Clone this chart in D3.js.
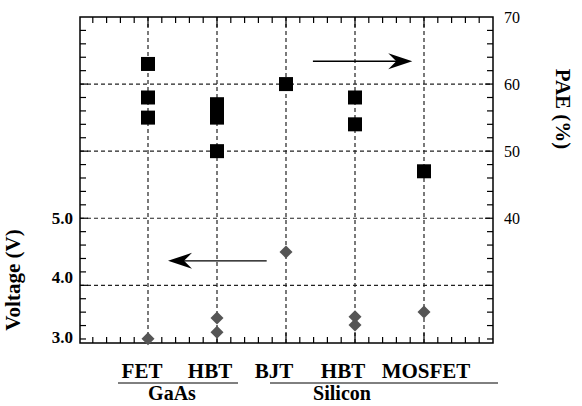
<!DOCTYPE html>
<html>
<head>
<meta charset="utf-8">
<script src="https://cdn.jsdelivr.net/npm/d3@7/dist/d3.min.js"></script>
<style>
  body { margin: 0; background: #fff; }
</style>
</head>
<body>
<script>
// categories (x positions 1..5)
const devices = ["FET", "HBT", "BJT", "HBT", "MOSFET"];
const groups = ["GaAs", "Silicon"];

// PAE (%) points, right axis
const paeCat = [1, 1, 1, 2, 2, 2, 2, 3, 4, 4, 5];
const paeVal = [63, 58, 55, 57, 56, 55, 50, 60, 58, 54, 47];

// voltage (V) points, left axis
const voltCat = [1, 2, 2, 3, 4, 4, 5];
const voltVal = [2.97, 3.32, 3.08, 4.43, 3.34, 3.2, 3.42];

const paeTicks = [70, 60, 50, 40];
const voltTicks = [5.0, 4.0, 3.0];
const paeGrid = [60, 50, 40, 30];

const width = 582, height = 406;
const margin = { top: 17, right: 89, bottom: 63, left: 80 };
const serif = "'Liberation Serif', 'Times New Roman', Times, 'DejaVu Serif', serif";

var svg = d3.select("body")
    .append("svg")
    .attr("width", width)
    .attr("height", height)
    .attr("font-family", serif)
    .style("font-family", serif);

const x = d3.scaleLinear().domain([0, 6]).range([margin.left - 1, width - margin.right]);
const yPae = d3.scaleLinear().domain([21.4, 70]).range([height - margin.bottom, margin.top]);
const yVolt = d3.scaleLinear().domain([3.0, 5.0]).range([337, 218]);

const x0 = margin.left, x1 = width - margin.right;
const y0 = margin.top, y1 = height - margin.bottom;

// grid
svg.append("g").selectAll("line").data(paeGrid).enter().append("line")
    .attr("x1", x0).attr("x2", x1)
    .attr("y1", d => yPae(d)).attr("y2", d => yPae(d))
    .attr("stroke", "#222").attr("stroke-width", 1.2).attr("stroke-dasharray", "4,3");

svg.append("g").selectAll("line").data(devices).enter().append("line")
    .attr("x1", (d, i) => x(i + 1)).attr("x2", (d, i) => x(i + 1))
    .attr("y1", y0).attr("y2", y1)
    .attr("stroke", "#222").attr("stroke-width", 1.2).attr("stroke-dasharray", "4,3");

// minor ticks
const xMinor = d3.range(1, 30).map(i => i * 0.2);
const tickG = svg.append("g").attr("stroke", "#000").attr("stroke-width", 1.2);
xMinor.forEach(v => {
    const major = Math.abs(v - Math.round(v)) < 1e-6;
    const len = major ? 10 : 6;
    tickG.append("line").attr("x1", x(v)).attr("x2", x(v)).attr("y1", y0).attr("y2", y0 + len);
    tickG.append("line").attr("x1", x(v)).attr("x2", x(v)).attr("y1", y1).attr("y2", y1 - len);
});
d3.range(22, 70, 2).forEach(v => {
    const len = v % 10 === 0 ? 8 : 6;
    tickG.append("line").attr("x1", x0).attr("x2", x0 + len).attr("y1", yPae(v)).attr("y2", yPae(v));
    tickG.append("line").attr("x1", x1).attr("x2", x1 - len).attr("y1", yPae(v)).attr("y2", yPae(v));
});

// frame
svg.append("rect")
    .attr("x", x0).attr("y", y0)
    .attr("width", x1 - x0).attr("height", y1 - y0)
    .attr("fill", "none").attr("stroke", "#000").attr("stroke-width", 1.5);

// right axis labels
svg.append("g").selectAll("text").data(paeTicks).enter().append("text")
    .attr("x", x1 + 11).attr("y", d => yPae(d)).attr("dy", "0.35em")
    .attr("font-size", 16)
    .text(d => d);

// left axis labels
svg.append("g").selectAll("text").data(voltTicks).enter().append("text")
    .attr("x", x0 - 7).attr("y", d => yVolt(d)).attr("dy", "0.35em")
    .attr("text-anchor", "end").attr("font-size", 17).attr("font-weight", "bold")
    .text(d => d.toFixed(1));

// axis titles
svg.append("text")
    .attr("transform", "translate(13,280) rotate(-90)")
    .attr("dy", "0.35em")
    .attr("text-anchor", "middle").attr("font-size", 21).attr("font-weight", "bold")
    .text("Voltage (V)");
svg.append("text")
    .attr("transform", "translate(563,109) rotate(90)")
    .attr("dy", "0.35em")
    .attr("text-anchor", "middle").attr("font-size", 21).attr("font-weight", "bold")
    .text("PAE (%)");

// squares
const sq = 14;
svg.append("g").selectAll("rect").data(paeVal).enter().append("rect")
    .attr("x", (d, i) => x(paeCat[i]) - sq / 2)
    .attr("y", d => yPae(d) - sq / 2)
    .attr("width", sq).attr("height", sq)
    .attr("fill", "#000");

// diamonds
const dm = 6.5;
svg.append("g").selectAll("path").data(voltVal).enter().append("path")
    .attr("transform", (d, i) => `translate(${x(voltCat[i])},${yVolt(d)})`)
    .attr("d", `M0,${-dm}L${dm},0L0,${dm}L${-dm},0Z`)
    .attr("fill", "#555");

// arrows
function arrow(xa, xb, y) {
    const dir = xb > xa ? 1 : -1;
    svg.append("line").attr("x1", xa).attr("x2", xb - dir * 4).attr("y1", y).attr("y2", y)
        .attr("stroke", "#000").attr("stroke-width", 1.3);
    svg.append("path")
        .attr("d", `M${xb},${y}L${xb - dir * 24},${y - 8}L${xb - dir * 16},${y}L${xb - dir * 24},${y + 8}Z`)
        .attr("fill", "#000");
}
arrow(x(3.39), x(4.83), yPae(63.4));
arrow(x(2.72), x(1.29), yVolt(4.28));

// category labels
const nudge = [-6, -7, -12, -12, 2];
svg.append("g").selectAll("text").data(devices).enter().append("text")
    .attr("x", (d, i) => x(i + 1) + nudge[i]).attr("y", 378)
    .attr("text-anchor", "middle").attr("font-size", 21).attr("font-weight", "bold")
    .text(d => d);

// group underlines & names
const gLines = [[118, 238], [270, 498]];
const gText = [172, 342];
groups.forEach((g, i) => {
    svg.append("line").attr("x1", gLines[i][0]).attr("x2", gLines[i][1])
        .attr("y1", 383).attr("y2", 383).attr("stroke", "#000").attr("stroke-width", 1);
    svg.append("text")
        .attr("x", gText[i]).attr("y", 400)
        .attr("text-anchor", "middle").attr("font-size", 20).attr("font-weight", "bold")
        .text(g);
});
</script>
</body>
</html>
